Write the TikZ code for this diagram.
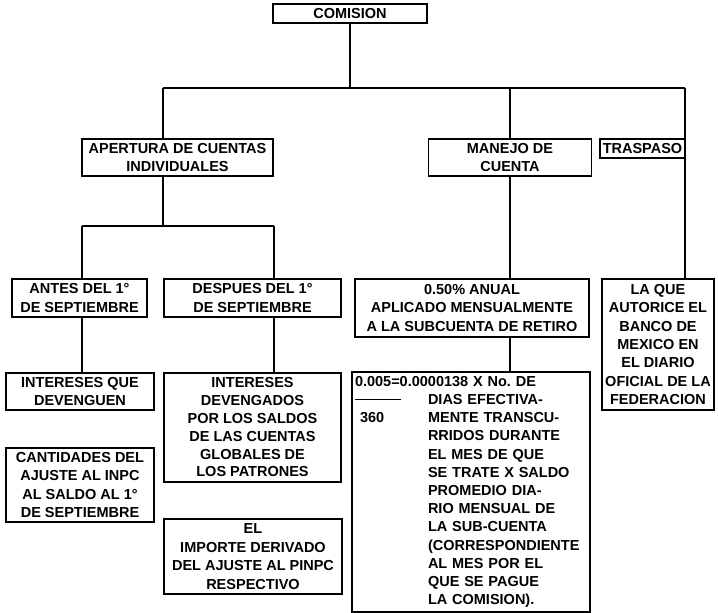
\documentclass[tikz,border=0pt]{standalone}
\usepackage{fontspec}
\setmainfont{Liberation Sans}
\begin{document}
\begin{tikzpicture}[x=1pt,y=-1pt,
  font=\bfseries\fontsize{14.5}{18.4}\selectfont,
  box/.style={draw,line width=1.1pt,inner sep=0pt,align=center},
  link/.style={line width=1.1pt}]
 \useasboundingbox (0,0) rectangle (718,613);
 % first row
 \node[box,minimum width=154,minimum height=19] (comision) at (350,13.5) {COMISION};
 \node[box,minimum width=191,minimum height=37] (apertura) at (177.5,157.5) {APERTURA DE CUENTAS\\INDIVIDUALES};
 \node[box,minimum width=163,minimum height=37] (manejo) at (510,157.5) {MANEJO DE\\CUENTA};
 \node[box,minimum width=85,minimum height=19] (traspaso) at (642.5,148.5) {TRASPASO};
 % second row
 \node[box,minimum width=135,minimum height=38] (antes) at (79.5,298) {ANTES DEL 1°\\DE SEPTIEMBRE};
 \node[box,minimum width=177,minimum height=38] (despues) at (252.5,298) {DESPUES DEL 1°\\DE SEPTIEMBRE};
 \node[box,minimum width=234,minimum height=58] (anual) at (472,308) {0.50\% ANUAL\\APLICADO MENSUALMENTE\\A LA SUBCUENTA DE RETIRO};
 \node[box,minimum width=112,minimum height=131] (laque) at (658,344.5) {LA QUE\\AUTORICE EL\\BANCO DE\\MEXICO EN\\EL DIARIO\\OFICIAL DE LA\\FEDERACION};
 % third row
 \node[box,minimum width=148,minimum height=37] (interesesque) at (80,391.5) {INTERESES QUE\\DEVENGUEN};
 \node[box,minimum width=177,minimum height=109,font=\bfseries\fontsize{14.5}{17.8}\selectfont] (devengados) at (252.5,427.5) {INTERESES\\DEVENGADOS\\POR LOS SALDOS\\DE LAS CUENTAS\\GLOBALES DE\\LOS PATRONES};
 \node[box,minimum width=148,minimum height=74] (cantidades) at (80,485) {CANTIDADES DEL\\AJUSTE AL INPC\\AL SALDO AL 1°\\DE SEPTIEMBRE};
 \node[box,minimum width=178,minimum height=75] (importe) at (253,556.5) {EL\\IMPORTE DERIVADO\\DEL AJUSTE AL PINPC\\RESPECTIVO};
 \node[box,minimum width=238,minimum height=240,inner xsep=3pt,text width=232,align=left,
  font=\bfseries\fontsize{14.5}{18.2}\selectfont] (formula) at (471,492)
  {0.005=0.0000138 X No.\ DE\\
   \makebox[73pt][l]{\rule[4.5pt]{46pt}{1pt}}DIAS EFECTIVA-\\
   \makebox[73pt][l]{\hspace{5pt}360}MENTE TRANSCU-\\
   \hspace*{73pt}RRIDOS DURANTE\\
   \hspace*{73pt}EL MES DE QUE\\
   \hspace*{73pt}SE TRATE X SALDO\\
   \hspace*{73pt}PROMEDIO DIA-\\
   \hspace*{73pt}RIO MENSUAL DE\\
   \hspace*{73pt}LA SUB-CUENTA\\
   \hspace*{73pt}(CORRESPONDIENTE\\
   \hspace*{73pt}AL MES POR EL\\
   \hspace*{73pt}QUE SE PAGUE\\
   \hspace*{73pt}LA COMISION).};
 % connectors
 \coordinate (busL) at (163,88);
 \coordinate (busR) at (685,88);
 \coordinate (subL) at (82,226);
 \coordinate (subR) at (274,226);
 \draw[link] (comision.south) -- (comision.south |- busL);
 \draw[link] (busL) -- (busR);
 \draw[link] (busL) -- (busL |- apertura.north);
 \draw[link] (manejo.north) -- (manejo.north |- busL);
 \draw[link] (busR) -- (busR |- laque.north);
 \draw[link] (busL |- apertura.south) -- (busL |- subL);
 \draw[link] (subL) -- (subR);
 \draw[link] (subL) -- (subL |- antes.north);
 \draw[link] (subR) -- (subR |- despues.north);
 \draw[link] (subL |- antes.south) -- (subL |- interesesque.north);
 \draw[link] (subR |- despues.south) -- (subR |- devengados.north);
 \draw[link] (manejo.south) -- (manejo.south |- anual.north);
 \draw[link] (manejo.south |- anual.south) -- (manejo.south |- formula.north);
\end{tikzpicture}
\end{document}
